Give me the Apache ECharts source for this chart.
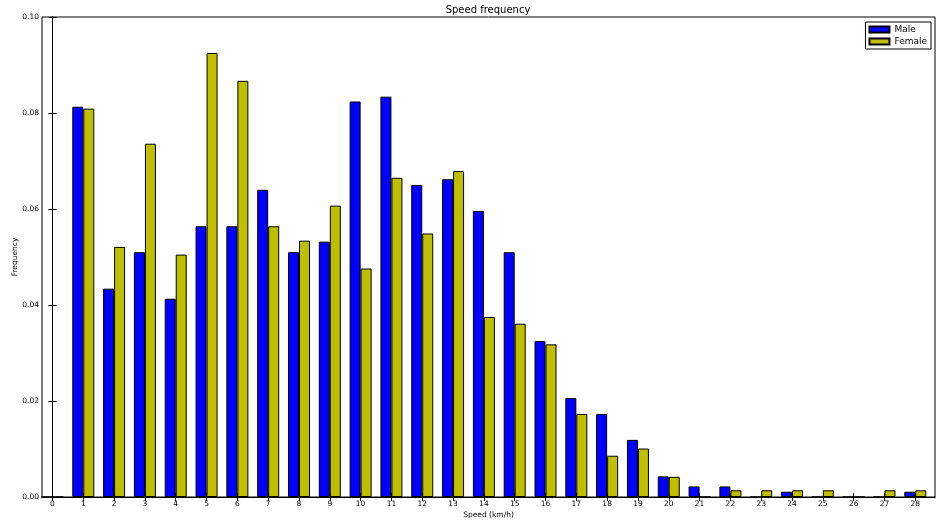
<!DOCTYPE html>
<html>
<head>
<meta charset="utf-8">
<script src="https://cdn.jsdelivr.net/npm/echarts@6/dist/echarts.min.js"></script>
<style>
  html, body { margin: 0; padding: 0; background: #fff; }
  #chart { width: 937px; height: 524px; }
</style>
</head>
<body>
<div id="chart"></div>
<script>
// Speed bins (km/h)
const speeds = [0, 1, 2, 3, 4, 5, 6, 7, 8, 9, 10, 11, 12, 13, 14, 15, 16, 17, 18, 19, 20, 21, 22, 23, 24, 25, 26, 27, 28];
// Relative frequency per speed bin
const male = [0, 0.0813, 0.0434, 0.0510, 0.0413, 0.0564, 0.0564, 0.0640, 0.0510, 0.0532,
  0.0824, 0.0834, 0.0650, 0.0662, 0.0596, 0.0510, 0.0325, 0.0206, 0.0173, 0.0119,
  0.0043, 0.0022, 0.0022, 0, 0.0011, 0, 0, 0, 0.0011];
const female = [0, 0.0809, 0.0521, 0.0736, 0.0505, 0.0925, 0.0867, 0.0564, 0.0534, 0.0607,
  0.0476, 0.0665, 0.0549, 0.0679, 0.0375, 0.0361, 0.0318, 0.0173, 0.0086, 0.0101,
  0.0042, 0, 0.0014, 0.0014, 0.0014, 0.0014, 0, 0.0014, 0.0014];
const yTicks = [0, 0.02, 0.04, 0.06, 0.08, 0.10];

const FONT = 'DejaVu Sans';
const TICK_FONT = 7.5;
const chart = echarts.init(document.getElementById('chart'), null, { renderer: 'canvas' });

const xBase = {
  type: 'value', min: -0.34, max: 28.64,
  splitLine: { show: false },
  axisLine: { show: true, lineStyle: { color: '#000', width: 1 } },
  axisTick: { show: true, inside: true, length: 4, customValues: speeds, lineStyle: { color: '#000' } }
};
const yBase = {
  type: 'value', min: 0, max: 0.1, interval: 0.02,
  splitLine: { show: false },
  axisLine: { show: true, lineStyle: { color: '#000', width: 1 } },
  axisTick: { show: true, inside: true, length: 4, lineStyle: { color: '#000' } }
};

const barSeries = (name, values, color) => ({
  name, type: 'bar', xAxisIndex: 0, yAxisIndex: 0,
  data: speeds.map((s, i) => [s, values[i]]),
  barWidth: 11, barGap: '0%',
  itemStyle: { color, borderColor: '#000', borderWidth: 1 },
  emphasis: { disabled: true },
  animation: false
});

chart.setOption({
  animation: false,
  textStyle: { fontFamily: FONT },
  title: {
    text: 'Speed frequency', left: 488, top: 5, textAlign: 'center', padding: 0,
    textStyle: { fontFamily: FONT, fontSize: 10, fontWeight: 'normal', color: '#000' }
  },
  legend: {
    orient: 'vertical', right: 6, top: 22, align: 'left',
    backgroundColor: '#fff', borderColor: '#000', borderWidth: 1,
    padding: [3, 4, 3, 3], itemGap: 3, itemWidth: 20, itemHeight: 6,
    icon: 'rect',
    textStyle: { fontFamily: FONT, fontSize: 9, color: '#000' },
    data: ['Male', 'Female']
  },
  grid: {
    left: 42, right: 2, top: 17, bottom: 27,
    containLabel: false, outerBoundsMode: 'none',
    show: true, borderColor: '#000', borderWidth: 1, backgroundColor: '#fff'
  },
  xAxis: [
    Object.assign({}, xBase, {
      position: 'bottom',
      name: 'Speed (km/h)', nameLocation: 'middle', nameGap: 14, nameMoveOverlap: false,
      nameTextStyle: { fontFamily: FONT, fontSize: TICK_FONT, color: '#000' },
      axisLabel: { show: true, customValues: speeds, margin: 3, fontFamily: FONT, fontSize: TICK_FONT, color: '#000' }
    }),
    Object.assign({}, xBase, { position: 'top', axisLabel: { show: false } })
  ],
  yAxis: [
    Object.assign({}, yBase, {
      position: 'left',
      name: 'Frequency', nameLocation: 'middle', nameGap: 23, nameMoveOverlap: false,
      nameTextStyle: { fontFamily: FONT, fontSize: TICK_FONT, color: '#000' },
      axisLabel: {
        show: true, margin: 3, fontFamily: FONT, fontSize: TICK_FONT, color: '#000',
        customValues: yTicks, formatter: v => v.toFixed(2)
      }
    }),
    Object.assign({}, yBase, { position: 'right', axisLabel: { show: false } })
  ],
  series: [
    barSeries('Male', male, '#0000ff'),
    barSeries('Female', female, '#bfbf00')
  ]
});
</script>
</body>
</html>
